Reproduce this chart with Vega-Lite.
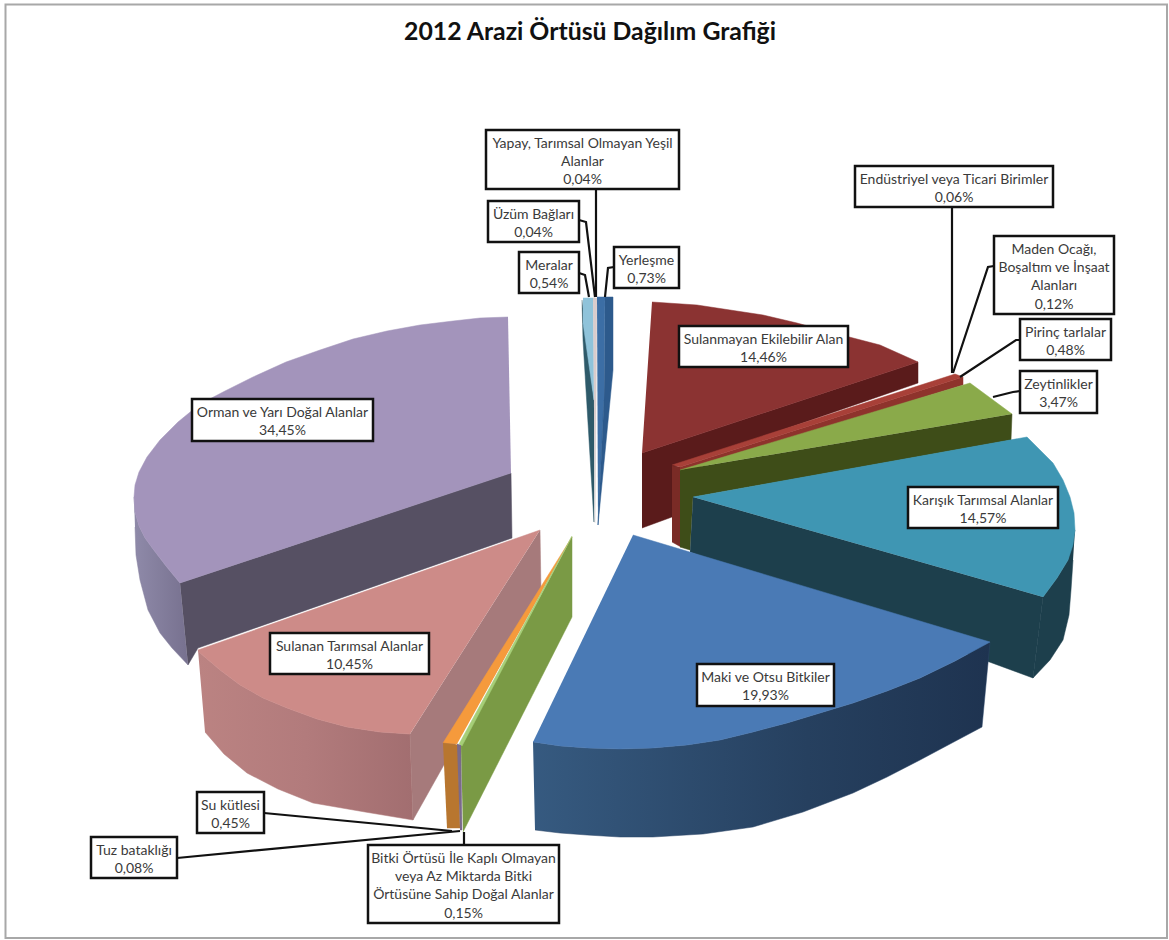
{
  "$schema": "https://vega.github.io/schema/vega-lite/v6.json",
  "autosize": {"type": "fit", "contains": "padding"},
  "padding": 0,
  "width": 1169,
  "height": 940,
  "background": "#ffffff",
  "view": {"stroke": null},
  "datasets": {
    "frame": [{"x": 0.55, "x2": 116.7, "y": 0.45, "y2": 93.8}],
    "heading": [{"x": 59.0, "y": 3.3, "text": "2012 Arazi Örtüsü Dağılım Grafiği"}],
    "outline": [
      {"piece":"orman_side","x":13.4,"y":49.7},{"piece":"orman_side","x":13.5,"y":51.2},{"piece":"orman_side","x":13.9,"y":52.6},{"piece":"orman_side","x":14.5,"y":53.8},{"piece":"orman_side","x":15.3,"y":54.9},{"piece":"orman_side","x":16.6,"y":56.6},{"piece":"orman_side","x":18.0,"y":58.3},{"piece":"orman_side","x":18.8,"y":66.5},{"piece":"orman_side","x":17.2,"y":64.8},{"piece":"orman_side","x":16.0,"y":63.3},{"piece":"orman_side","x":14.8,"y":61.0},{"piece":"orman_side","x":14.0,"y":58.0},{"piece":"orman_side","x":13.6,"y":55.5},{"piece":"orman_side","x":13.5,"y":52.7},
      {"piece":"orman_cut","x":18.0,"y":58.3},{"piece":"orman_cut","x":51.1,"y":47.3},{"piece":"orman_cut","x":51.2,"y":53.8},{"piece":"orman_cut","x":19.8,"y":64.8},{"piece":"orman_cut","x":18.8,"y":66.5},
      {"piece":"orman_top","x":50.8,"y":31.7},{"piece":"orman_top","x":48.0,"y":31.8},{"piece":"orman_top","x":45.3,"y":32.1},{"piece":"orman_top","x":42.0,"y":32.5},{"piece":"orman_top","x":38.7,"y":33.1},{"piece":"orman_top","x":35.3,"y":33.9},{"piece":"orman_top","x":32.0,"y":35.0},{"piece":"orman_top","x":28.6,"y":36.2},{"piece":"orman_top","x":25.3,"y":37.7},{"piece":"orman_top","x":22.5,"y":39.1},{"piece":"orman_top","x":20.0,"y":40.4},{"piece":"orman_top","x":17.8,"y":42.2},{"piece":"orman_top","x":16.0,"y":44.0},{"piece":"orman_top","x":14.7,"y":45.7},{"piece":"orman_top","x":13.9,"y":47.2},{"piece":"orman_top","x":13.5,"y":48.5},{"piece":"orman_top","x":13.4,"y":49.7},{"piece":"orman_top","x":13.5,"y":51.2},{"piece":"orman_top","x":13.9,"y":52.6},{"piece":"orman_top","x":14.5,"y":53.8},{"piece":"orman_top","x":15.3,"y":54.9},{"piece":"orman_top","x":16.6,"y":56.6},{"piece":"orman_top","x":18.0,"y":58.3},{"piece":"orman_top","x":51.1,"y":47.3},
      {"piece":"sulanan_side","x":19.8,"y":65.0},{"piece":"sulanan_side","x":20.0,"y":65.3},{"piece":"sulanan_side","x":22.0,"y":67.0},{"piece":"sulanan_side","x":24.0,"y":68.5},{"piece":"sulanan_side","x":26.3,"y":69.8},{"piece":"sulanan_side","x":28.7,"y":70.8},{"piece":"sulanan_side","x":31.7,"y":71.9},{"piece":"sulanan_side","x":34.7,"y":72.7},{"piece":"sulanan_side","x":38.0,"y":73.2},{"piece":"sulanan_side","x":41.0,"y":73.4},{"piece":"sulanan_side","x":41.3,"y":82.0},{"piece":"sulanan_side","x":36.5,"y":81.2},{"piece":"sulanan_side","x":31.3,"y":80.3},{"piece":"sulanan_side","x":27.8,"y":78.9},{"piece":"sulanan_side","x":24.7,"y":77.3},{"piece":"sulanan_side","x":22.4,"y":75.4},{"piece":"sulanan_side","x":20.5,"y":73.2},
      {"piece":"sulanan_cut","x":54.0,"y":53.0},{"piece":"sulanan_cut","x":54.1,"y":59.2},{"piece":"sulanan_cut","x":41.3,"y":82.0},{"piece":"sulanan_cut","x":41.0,"y":73.4},
      {"piece":"sulanan_top","x":54.0,"y":53.0},{"piece":"sulanan_top","x":19.8,"y":65.0},{"piece":"sulanan_top","x":20.0,"y":65.3},{"piece":"sulanan_top","x":22.0,"y":67.0},{"piece":"sulanan_top","x":24.0,"y":68.5},{"piece":"sulanan_top","x":26.3,"y":69.8},{"piece":"sulanan_top","x":28.7,"y":70.8},{"piece":"sulanan_top","x":31.7,"y":71.9},{"piece":"sulanan_top","x":34.7,"y":72.7},{"piece":"sulanan_top","x":38.0,"y":73.2},{"piece":"sulanan_top","x":41.0,"y":73.4},
      {"piece":"su_top","x":57.2,"y":53.7},{"piece":"su_top","x":44.3,"y":74.3},{"piece":"su_top","x":45.7,"y":74.4},
      {"piece":"su_front","x":44.3,"y":74.3},{"piece":"su_front","x":45.8,"y":74.5},{"piece":"su_front","x":46.0,"y":82.8},{"piece":"su_front","x":44.7,"y":82.8},
      {"piece":"tuz_front","x":45.7,"y":74.4},{"piece":"tuz_front","x":46.1,"y":74.5},{"piece":"tuz_front","x":46.2,"y":83.0},{"piece":"tuz_front","x":46.0,"y":83.0},
      {"piece":"bitki_cut","x":46.1,"y":74.5},{"piece":"bitki_cut","x":57.2,"y":53.7},{"piece":"bitki_cut","x":57.2,"y":61.7},{"piece":"bitki_cut","x":46.3,"y":83.2},
      {"piece":"bitki_edge","x":45.9,"y":74.4},{"piece":"bitki_edge","x":57.2,"y":53.6},{"piece":"bitki_edge","x":46.2,"y":74.6},
      {"piece":"sulanmayan_cut","x":64.2,"y":45.3},{"piece":"sulanmayan_cut","x":91.8,"y":36.2},{"piece":"sulanmayan_cut","x":91.8,"y":38.3},{"piece":"sulanmayan_cut","x":67.2,"y":46.8},{"piece":"sulanmayan_cut","x":67.2,"y":51.7},{"piece":"sulanmayan_cut","x":64.2,"y":52.8},
      {"piece":"sulanmayan_top","x":65.2,"y":30.2},{"piece":"sulanmayan_top","x":69.7,"y":30.5},{"piece":"sulanmayan_top","x":73.0,"y":31.0},{"piece":"sulanmayan_top","x":76.3,"y":31.5},{"piece":"sulanmayan_top","x":79.7,"y":32.3},{"piece":"sulanmayan_top","x":83.0,"y":33.2},{"piece":"sulanmayan_top","x":88.0,"y":34.5},{"piece":"sulanmayan_top","x":91.8,"y":36.2},{"piece":"sulanmayan_top","x":64.2,"y":45.3},
      {"piece":"pirinc_front","x":67.2,"y":46.6},{"piece":"pirinc_front","x":68.1,"y":46.7},{"piece":"pirinc_front","x":68.1,"y":54.7},{"piece":"pirinc_front","x":67.2,"y":54.2},
      {"piece":"pirinc_cut","x":68.0,"y":46.7},{"piece":"pirinc_cut","x":96.3,"y":37.7},{"piece":"pirinc_cut","x":96.3,"y":38.5},{"piece":"pirinc_cut","x":68.0,"y":47.3},
      {"piece":"pirinc_top","x":67.2,"y":46.5},{"piece":"pirinc_top","x":95.5,"y":37.4},{"piece":"pirinc_top","x":96.3,"y":37.7},{"piece":"pirinc_top","x":68.0,"y":46.7},
      {"piece":"zeytin_cut","x":68.0,"y":47.0},{"piece":"zeytin_cut","x":101.2,"y":41.4},{"piece":"zeytin_cut","x":101.1,"y":44.0},{"piece":"zeytin_cut","x":69.3,"y":49.7},{"piece":"zeytin_cut","x":69.0,"y":55.0},{"piece":"zeytin_cut","x":68.0,"y":54.7},
      {"piece":"zeytin_top","x":68.0,"y":47.0},{"piece":"zeytin_top","x":97.0,"y":38.3},{"piece":"zeytin_top","x":101.2,"y":41.4},
      {"piece":"karisik_cut","x":69.3,"y":49.7},{"piece":"karisik_cut","x":104.3,"y":59.7},{"piece":"karisik_cut","x":103.3,"y":67.8},{"piece":"karisik_cut","x":69.0,"y":55.2},
      {"piece":"karisik_side","x":107.5,"y":53.0},{"piece":"karisik_side","x":106.8,"y":56.0},{"piece":"karisik_side","x":105.7,"y":57.8},{"piece":"karisik_side","x":104.3,"y":59.7},{"piece":"karisik_side","x":103.3,"y":67.8},{"piece":"karisik_side","x":105.0,"y":66.0},{"piece":"karisik_side","x":106.3,"y":64.0},{"piece":"karisik_side","x":106.9,"y":61.5},{"piece":"karisik_side","x":107.1,"y":59.0},{"piece":"karisik_side","x":107.3,"y":56.0},
      {"piece":"karisik_top","x":69.3,"y":49.7},{"piece":"karisik_top","x":102.7,"y":43.7},{"piece":"karisik_top","x":104.0,"y":45.0},{"piece":"karisik_top","x":105.3,"y":46.3},{"piece":"karisik_top","x":106.3,"y":48.0},{"piece":"karisik_top","x":107.0,"y":49.7},{"piece":"karisik_top","x":107.4,"y":51.3},{"piece":"karisik_top","x":107.5,"y":53.0},{"piece":"karisik_top","x":107.3,"y":54.5},{"piece":"karisik_top","x":106.8,"y":56.0},{"piece":"karisik_top","x":105.7,"y":57.8},{"piece":"karisik_top","x":104.3,"y":59.7},
      {"piece":"maki_side","x":53.3,"y":74.2},{"piece":"maki_side","x":56.0,"y":74.6},{"piece":"maki_side","x":58.7,"y":74.8},{"piece":"maki_side","x":62.0,"y":74.9},{"piece":"maki_side","x":65.3,"y":74.8},{"piece":"maki_side","x":68.7,"y":74.5},{"piece":"maki_side","x":72.0,"y":74.0},{"piece":"maki_side","x":75.3,"y":73.2},{"piece":"maki_side","x":78.7,"y":72.3},{"piece":"maki_side","x":82.0,"y":71.3},{"piece":"maki_side","x":85.3,"y":70.3},{"piece":"maki_side","x":88.7,"y":69.1},{"piece":"maki_side","x":92.0,"y":67.8},{"piece":"maki_side","x":95.5,"y":66.1},{"piece":"maki_side","x":99.0,"y":64.2},{"piece":"maki_side","x":98.2,"y":72.7},{"piece":"maki_side","x":95.0,"y":74.4},{"piece":"maki_side","x":92.0,"y":76.0},{"piece":"maki_side","x":88.7,"y":77.7},{"piece":"maki_side","x":85.3,"y":79.3},{"piece":"maki_side","x":80.3,"y":81.2},{"piece":"maki_side","x":75.3,"y":82.7},{"piece":"maki_side","x":70.3,"y":83.4},{"piece":"maki_side","x":65.3,"y":83.7},{"piece":"maki_side","x":62.0,"y":83.7},{"piece":"maki_side","x":58.7,"y":83.5},{"piece":"maki_side","x":56.0,"y":83.3},{"piece":"maki_side","x":53.5,"y":83.0},
      {"piece":"maki_top","x":63.3,"y":53.5},{"piece":"maki_top","x":99.0,"y":64.2},{"piece":"maki_top","x":95.5,"y":66.1},{"piece":"maki_top","x":92.0,"y":67.8},{"piece":"maki_top","x":88.7,"y":69.1},{"piece":"maki_top","x":85.3,"y":70.3},{"piece":"maki_top","x":82.0,"y":71.3},{"piece":"maki_top","x":78.7,"y":72.3},{"piece":"maki_top","x":75.3,"y":73.2},{"piece":"maki_top","x":72.0,"y":74.0},{"piece":"maki_top","x":68.7,"y":74.5},{"piece":"maki_top","x":65.3,"y":74.8},{"piece":"maki_top","x":62.0,"y":74.9},{"piece":"maki_top","x":58.7,"y":74.8},{"piece":"maki_top","x":56.0,"y":74.6},{"piece":"maki_top","x":53.3,"y":74.2},
      {"piece":"meralar_dark","x":58.2,"y":30.0},{"piece":"meralar_dark","x":58.3,"y":34.0},{"piece":"meralar_dark","x":58.6,"y":39.0},{"piece":"meralar_dark","x":59.4,"y":52.2},{"piece":"meralar_dark","x":59.4,"y":40.0},
      {"piece":"meralar_top","x":58.3,"y":29.8},{"piece":"meralar_top","x":59.3,"y":29.8},{"piece":"meralar_top","x":59.4,"y":40.0},{"piece":"meralar_top","x":58.3,"y":32.3},
      {"piece":"uzum_strip","x":59.3,"y":29.8},{"piece":"uzum_strip","x":59.7,"y":29.8},{"piece":"uzum_strip","x":59.5,"y":52.3},
      {"piece":"yerlesme_left","x":59.7,"y":29.7},{"piece":"yerlesme_left","x":60.5,"y":29.7},{"piece":"yerlesme_left","x":60.4,"y":40.0},{"piece":"yerlesme_left","x":59.8,"y":52.5},
      {"piece":"yerlesme_right","x":60.5,"y":29.7},{"piece":"yerlesme_right","x":61.3,"y":29.7},{"piece":"yerlesme_right","x":61.3,"y":37.0},{"piece":"yerlesme_right","x":59.8,"y":52.5},{"piece":"yerlesme_right","x":60.4,"y":40.0}
    ],
    "leaders": [
      {"name":"Yapay","x":59.6,"y":18.9},{"name":"Yapay","x":59.6,"y":29.7},
      {"name":"Üzüm","x":57.9,"y":22.0},{"name":"Üzüm","x":58.6,"y":22.2},{"name":"Üzüm","x":59.5,"y":29.7},
      {"name":"Meralar","x":57.9,"y":27.3},{"name":"Meralar","x":58.5,"y":27.5},{"name":"Meralar","x":58.9,"y":29.7},
      {"name":"Yerleşme","x":61.4,"y":26.7},{"name":"Yerleşme","x":60.8,"y":26.8},{"name":"Yerleşme","x":60.5,"y":29.7},
      {"name":"Endüstriyel","x":95.2,"y":20.7},{"name":"Endüstriyel","x":95.2,"y":37.3},
      {"name":"Maden","x":99.4,"y":26.6},{"name":"Maden","x":98.8,"y":26.7},{"name":"Maden","x":95.3,"y":37.3},
      {"name":"Pirinç","x":102.0,"y":34.0},{"name":"Pirinç","x":101.6,"y":34.0},{"name":"Pirinç","x":96.0,"y":37.7},
      {"name":"Zeytinlikler","x":102.0,"y":39.1},{"name":"Zeytinlikler","x":101.3,"y":39.2},{"name":"Zeytinlikler","x":99.3,"y":39.7},
      {"name":"Su","x":26.4,"y":81.3},{"name":"Su","x":45.2,"y":83.1},
      {"name":"Tuz","x":17.7,"y":85.8},{"name":"Tuz","x":46.0,"y":83.1},
      {"name":"Bitki","x":46.4,"y":84.5},{"name":"Bitki","x":46.4,"y":83.2}
    ],
    "labels": [
      {"label":"Yapay, Tarımsal Olmayan Yeşil\nAlanlar\n0,04%","share":0.04,"x":48.6,"x2":67.9,"y":13.0,"y2":18.9},
      {"label":"Üzüm Bağları\n0,04%","share":0.04,"x":48.8,"x2":57.9,"y":20.1,"y2":24.2},
      {"label":"Meralar\n0,54%","share":0.54,"x":51.9,"x2":57.9,"y":25.2,"y2":29.3},
      {"label":"Yerleşme\n0,73%","share":0.73,"x":61.4,"x2":67.9,"y":24.7,"y2":28.8},
      {"label":"Endüstriyel veya Ticari Birimler\n0,06%","share":0.06,"x":85.5,"x2":105.3,"y":16.6,"y2":20.7},
      {"label":"Maden Ocağı,\nBoşaltım ve İnşaat\nAlanları\n0,12%","share":0.12,"x":99.4,"x2":111.4,"y":23.6,"y2":31.4},
      {"label":"Pirinç tarlalar\n0,48%","share":0.48,"x":102.0,"x2":111.1,"y":31.9,"y2":36.0},
      {"label":"Zeytinlikler\n3,47%","share":3.47,"x":102.0,"x2":109.7,"y":37.1,"y2":41.3},
      {"label":"Sulanmayan Ekilebilir Alan\n14,46%","share":14.46,"x":67.9,"x2":84.8,"y":32.6,"y2":36.7},
      {"label":"Karışık Tarımsal Alanlar\n14,57%","share":14.57,"x":90.8,"x2":105.8,"y":48.7,"y2":52.8},
      {"label":"Maki ve Otsu Bitkiler\n19,93%","share":19.93,"x":69.7,"x2":83.4,"y":66.4,"y2":70.6},
      {"label":"Orman ve Yarı Doğal Alanlar\n34,45%","share":34.45,"x":19.2,"x2":37.3,"y":39.9,"y2":44.1},
      {"label":"Sulanan Tarımsal Alanlar\n10,45%","share":10.45,"x":27.0,"x2":42.9,"y":63.3,"y2":67.4},
      {"label":"Su kütlesi\n0,45%","share":0.45,"x":19.7,"x2":26.4,"y":79.2,"y2":83.3},
      {"label":"Tuz bataklığı\n0,08%","share":0.08,"x":9.1,"x2":17.7,"y":83.7,"y2":87.8},
      {"label":"Bitki Örtüsü İle Kaplı Olmayan\nveya Az Miktarda Bitki\nÖrtüsüne Sahip Doğal Alanlar\n0,15%","share":0.15,"x":36.8,"x2":55.9,"y":84.5,"y2":92.3}
    ]
  },
  "layer": [
    {
      "data": {"name": "frame"},
      "mark": {"type": "rect", "fill": "#ffffff", "stroke": "#a8a8a8", "strokeWidth": 2},
      "encoding": {
        "x": {"field": "x", "type": "quantitative", "scale": {"domain": [0, 116.9], "nice": false, "zero": false}, "axis": null},
        "x2": {"field": "x2"},
        "y": {"field": "y", "type": "quantitative", "scale": {"domain": [94, 0], "nice": false, "zero": false}, "axis": null},
        "y2": {"field": "y2"}
      }
    },
    {
      "data": {"name": "outline"},
      "transform": [{"window": [{"op": "row_number", "as": "vertex"}]}, {"filter": "datum.piece === 'orman_side'"}],
      "mark": {"type": "line", "interpolate": "linear", "strokeWidth": 0.5, "filled": true, "stroke": "#86809f",
        "fill": {"gradient": "linear", "x1": 0, "y1": 0, "x2": 1, "y2": 0, "stops": [{"offset": 0, "color": "#8f8aa9"}, {"offset": 1, "color": "#77718f"}]}},
      "encoding": {
        "x": {"field": "x", "type": "quantitative"},
        "y": {"field": "y", "type": "quantitative"},
        "order": {"field": "vertex", "type": "quantitative"}
      }
    },
    {
      "data": {"name": "outline"},
      "transform": [{"window": [{"op": "row_number", "as": "vertex"}]}, {"filter": "datum.piece === 'sulanan_side'"}],
      "mark": {"type": "line", "interpolate": "linear", "strokeWidth": 0.5, "filled": true, "stroke": "#b07a7b",
        "fill": {"gradient": "linear", "x1": 0, "y1": 0, "x2": 1, "y2": 0, "stops": [{"offset": 0, "color": "#bb8382"}, {"offset": 0.5, "color": "#b27b7c"}, {"offset": 1, "color": "#a26e70"}]}},
      "encoding": {
        "x": {"field": "x", "type": "quantitative"},
        "y": {"field": "y", "type": "quantitative"},
        "order": {"field": "vertex", "type": "quantitative"}
      }
    },
    {
      "data": {"name": "outline"},
      "transform": [{"window": [{"op": "row_number", "as": "vertex"}]}, {"filter": "indexof(['orman_side','sulanan_side','maki_side','maki_top','meralar_dark','meralar_top','uzum_strip','yerlesme_left','yerlesme_right'], datum.piece) < 0"}],
      "mark": {"type": "line", "interpolate": "linear", "strokeWidth": 0.5, "strokeJoin": "round", "filled": true},
      "encoding": {
        "x": {"field": "x", "type": "quantitative"},
        "y": {"field": "y", "type": "quantitative"},
        "order": {"field": "vertex", "type": "quantitative"},
        "detail": {"field": "piece"},
        "fill": {
          "field": "piece", "type": "nominal", "legend": null, "sort": null,
          "scale": {
            "domain": ["orman_cut","orman_top","sulanan_cut","sulanan_top","su_top","su_front","tuz_front","bitki_cut","bitki_edge","sulanmayan_cut","sulanmayan_top","pirinc_front","pirinc_cut","pirinc_top","zeytin_cut","zeytin_top","karisik_cut","karisik_side","karisik_top","maki_top","meralar_dark","meralar_top","uzum_strip","yerlesme_left","yerlesme_right"],
            "range": ["#565063","#a394bb","#a67a7b","#cd8b88","#f59a3c","#b8762f","#7a6a8a","#7a9a45","#a6cf78","#5a1b1b","#8b3332","#7a2b26","#8e332c","#a84038","#3e4d18","#8aaa4a","#1d3f4c","#1d3f4c","#3f96b3","#4a7ab5","#2e5a6a","#8fc3da","#d9cccc","#3c6ea5","#2d5a8c"]
          }
        },
        "stroke": {
          "field": "piece", "type": "nominal", "legend": null, "sort": null,
          "scale": {
            "domain": ["orman_cut","orman_top","sulanan_cut","sulanan_top","su_top","su_front","tuz_front","bitki_cut","bitki_edge","sulanmayan_cut","sulanmayan_top","pirinc_front","pirinc_cut","pirinc_top","zeytin_cut","zeytin_top","karisik_cut","karisik_side","karisik_top","maki_top","meralar_dark","meralar_top","uzum_strip","yerlesme_left","yerlesme_right"],
            "range": ["#565063","#a394bb","#a67a7b","#cd8b88","#f59a3c","#b8762f","#7a6a8a","#7a9a45","#a6cf78","#5a1b1b","#8b3332","#7a2b26","#8e332c","#a84038","#3e4d18","#8aaa4a","#1d3f4c","#1d3f4c","#3f96b3","#4a7ab5","#2e5a6a","#8fc3da","#d9cccc","#3c6ea5","#2d5a8c"]
          }
        }
      }
    },
    {
      "data": {"name": "outline"},
      "transform": [{"window": [{"op": "row_number", "as": "vertex"}]}, {"filter": "datum.piece === 'maki_side'"}],
      "mark": {"type": "line", "interpolate": "linear", "strokeWidth": 0.5, "filled": true, "stroke": "#2a4567",
        "fill": {"gradient": "linear", "x1": 0, "y1": 0, "x2": 1, "y2": 0, "stops": [{"offset": 0, "color": "#365a80"}, {"offset": 0.6, "color": "#26405f"}, {"offset": 1, "color": "#1e3350"}]}},
      "encoding": {
        "x": {"field": "x", "type": "quantitative"},
        "y": {"field": "y", "type": "quantitative"},
        "order": {"field": "vertex", "type": "quantitative"}
      }
    },
    {
      "data": {"name": "outline"},
      "transform": [{"window": [{"op": "row_number", "as": "vertex"}]}, {"filter": "indexof(['maki_top','meralar_dark','meralar_top','uzum_strip','yerlesme_left','yerlesme_right'], datum.piece) >= 0"}],
      "mark": {"type": "line", "interpolate": "linear", "strokeWidth": 0.5, "strokeJoin": "round", "filled": true},
      "encoding": {
        "x": {"field": "x", "type": "quantitative"},
        "y": {"field": "y", "type": "quantitative"},
        "order": {"field": "vertex", "type": "quantitative"},
        "detail": {"field": "piece"},
        "fill": {"field": "piece", "type": "nominal", "legend": null, "sort": null},
        "stroke": {"field": "piece", "type": "nominal", "legend": null, "sort": null}
      }
    },
    {
      "data": {"name": "leaders"},
      "transform": [{"window": [{"op": "row_number", "as": "vertex"}]}],
      "mark": {"type": "line", "color": "#111111", "strokeWidth": 2.2, "interpolate": "linear"},
      "encoding": {
        "x": {"field": "x", "type": "quantitative"},
        "y": {"field": "y", "type": "quantitative"},
        "order": {"field": "vertex", "type": "quantitative"},
        "detail": {"field": "name"}
      }
    },
    {
      "data": {"name": "labels"},
      "mark": {"type": "rect", "fill": "#ffffff", "stroke": "#111111", "strokeWidth": 2.5},
      "encoding": {
        "x": {"field": "x", "type": "quantitative"},
        "x2": {"field": "x2"},
        "y": {"field": "y", "type": "quantitative"},
        "y2": {"field": "y2"}
      }
    },
    {
      "data": {"name": "labels"},
      "transform": [{"calculate": "(datum.x + datum.x2) / 2", "as": "cx"}],
      "mark": {"type": "text", "font": "Lato", "fontSize": 14, "lineBreak": "\n", "lineHeight": 18.2, "align": "center", "baseline": "top", "dy": 7, "fill": "#3a3a3a"},
      "encoding": {
        "x": {"field": "cx", "type": "quantitative"},
        "y": {"field": "y", "type": "quantitative"},
        "text": {"field": "label"}
      }
    },
    {
      "data": {"name": "heading"},
      "mark": {"type": "text", "font": "Lato", "fontSize": 24.8, "fontWeight": "bold", "align": "center", "baseline": "middle", "fill": "#111111"},
      "encoding": {
        "x": {"field": "x", "type": "quantitative"},
        "y": {"field": "y", "type": "quantitative"},
        "text": {"field": "text"}
      }
    }
  ],
  "resolve": {"scale": {"x": "shared", "y": "shared"}}
}
